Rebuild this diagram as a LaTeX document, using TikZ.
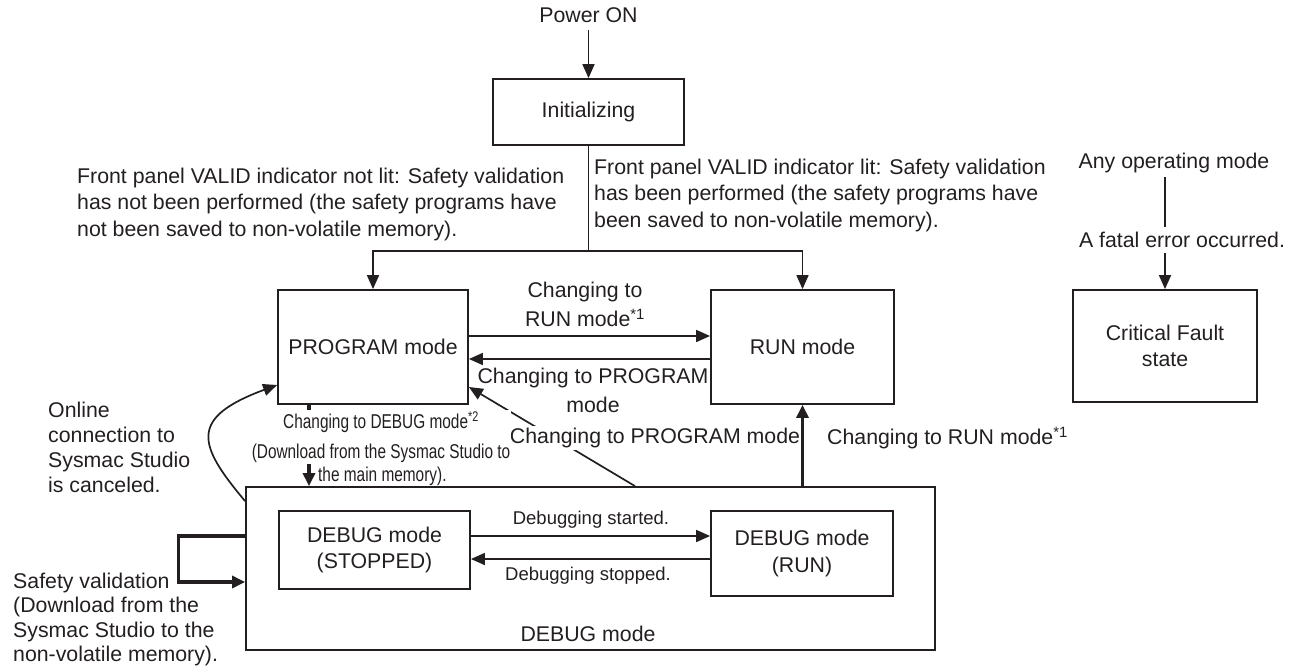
\documentclass[tikz,border=0pt]{standalone}
\usepackage{fontspec}
\setmainfont{Liberation Sans}
\newfontfamily\narrowfont[FakeStretch=0.77]{Liberation Sans}
\usetikzlibrary{arrows.meta}
\definecolor{ink}{RGB}{35,31,32}
\newcommand\szA{\fontsize{21.3}{26.5}\selectfont}
\newcommand\szB{\fontsize{18.5}{22}\selectfont}
\newcommand\szN{\narrowfont\fontsize{20}{30}\selectfont}
\begin{document}
\begin{tikzpicture}[x=1pt,y=-1pt,
  box/.style={draw=ink,line width=1.8pt,inner sep=0pt,align=center,text=ink,font=\szA},
  lbl/.style={inner sep=0pt,text=ink,font=\szA},
  arr/.style={draw=ink,line width=1.7pt,-{Triangle[length=14pt,width=12pt]}},
  tarr/.style={draw=ink,line width=3.2pt,-{Triangle[length=13pt,width=12pt]}},
  ln/.style={draw=ink,line width=1.7pt}]
\useasboundingbox (0,0) rectangle (1300,666);

% boxes
\node[box,minimum width=191pt,minimum height=66pt] (init) at (588.5,112) {Initializing};
\node[box,minimum width=190pt,minimum height=114pt] (prog) at (373,347) {PROGRAM mode};
\node[box,minimum width=183pt,minimum height=114pt] (run) at (802.5,347) {RUN mode};
\node[box,minimum width=689pt,minimum height=163pt] (dbg) at (590.5,568.5) {};
\node[box,minimum width=191pt,minimum height=78pt] (dstop) at (374.5,550) {DEBUG mode\\(STOPPED)};
\node[box,minimum width=182pt,minimum height=85pt] (drun) at (802,553.5) {DEBUG mode\\(RUN)};
\node[box,minimum width=184pt,minimum height=112pt] (crit) at (1165,346) {Critical Fault\\state};

% power on
\node[lbl,inner ysep=7.5pt] (power) at (588.5,15) {Power ON};
\draw[arr] (power.south) -- (init.north);

% initial branches
\coordinate (j) at (588.5,251);
\draw[ln] (init.south) -- (j);
\draw[arr] (j) -| (prog.north);
\draw[arr] (j) -| (run.north);
\node[lbl,anchor=west,align=left] (lnv) at (77,204) {Front panel VALID indicator not lit: Safety validation\\has not been performed (the safety programs have\\not been saved to non-volatile memory).};
\node[lbl,anchor=west,align=left] (lv) at (594,195) {Front panel VALID indicator lit: Safety validation\\has been performed (the safety programs have\\been saved to non-volatile memory).};

% program <-> run
\draw[arr] ([yshift=11pt]prog.east) -- ([yshift=11pt]run.west);
\draw[arr] ([yshift=-12pt]run.west) -- ([yshift=-12pt]prog.east);
\node[lbl,align=center,font=\fontsize{21.3}{29}\selectfont] (l1) at (585,304.5) {Changing to\\RUN mode\textsuperscript{*1}};
\node[lbl,align=center,font=\fontsize{21.3}{29}\selectfont] (l2) at (593,390.5) {Changing to PROGRAM\\mode};

% debug -> program (diagonal)
\draw[arr] ([xshift=44.5pt]dbg.north) -- ([yshift=-40pt]prog.east);
\node[lbl,fill=white,inner sep=2pt] (l3) at (655,438) {Changing to PROGRAM mode};

% debug -> run
\draw[tarr] (dbg.north -| run.south) -- (run.south);
\node[lbl,anchor=west] (l4) at (827,438) {Changing to RUN mode\textsuperscript{*1}};

% program -> debug
\coordinate (d1) at ([xshift=-64pt]prog.south);
\draw[tarr] (d1) -- (d1 |- dbg.north);
\node[lbl,font=\szN,fill=white,inner sep=1pt,align=center] (l5) at (381,437) {Changing to DEBUG mode\textsuperscript{*2}\\(Download from the Sysmac Studio to};
\node[lbl,font=\szN,anchor=west] (l6) at (318,476) {the main memory).};

% online canceled
\draw[arr] ([yshift=-15pt]dbg.north west) .. controls (198,445) and (188,418) .. ([yshift=-38pt]prog.west);
\node[lbl,anchor=west,align=left,font=\fontsize{21.3}{25}\selectfont] (l7) at (48,447) {Online\\connection to\\Sysmac Studio\\is canceled.};

% safety validation loop
\draw[tarr] ([yshift=32.5pt]dbg.west) -- ++(-67,0) |- ([yshift=-13.5pt]dbg.west);
\node[lbl,anchor=west,align=left,font=\fontsize{21.3}{24.5}\selectfont] (l8) at (13,619.5) {Safety validation\\(Download from the\\Sysmac Studio to the\\non-volatile memory).};

% debug inner
\coordinate (s1) at ([yshift=14pt]dstop.east);
\draw[arr] (s1) -- (s1 -| drun.west);
\coordinate (s2) at ([yshift=-9pt]dstop.east);
\draw[arr] (s2 -| drun.west) -- (s2);
\node[lbl,font=\szB] (l9) at (591,520) {Debugging started.};
\node[lbl,font=\szB] (l10) at (588,576) {Debugging stopped.};
\node[lbl] (l11) at (588,634) {DEBUG mode};

% critical fault
\node[lbl,inner ysep=4pt] (anyop) at (1174,163) {Any operating mode};
\node[lbl,inner ysep=4.5pt] (fatal) at (1182,240) {A fatal error occurred.};
\draw[ln] (anyop.south -| crit.north) -- (fatal.north -| crit.north);
\draw[arr] (fatal.south -| crit.north) -- (crit.north);
\end{tikzpicture}
\end{document}
